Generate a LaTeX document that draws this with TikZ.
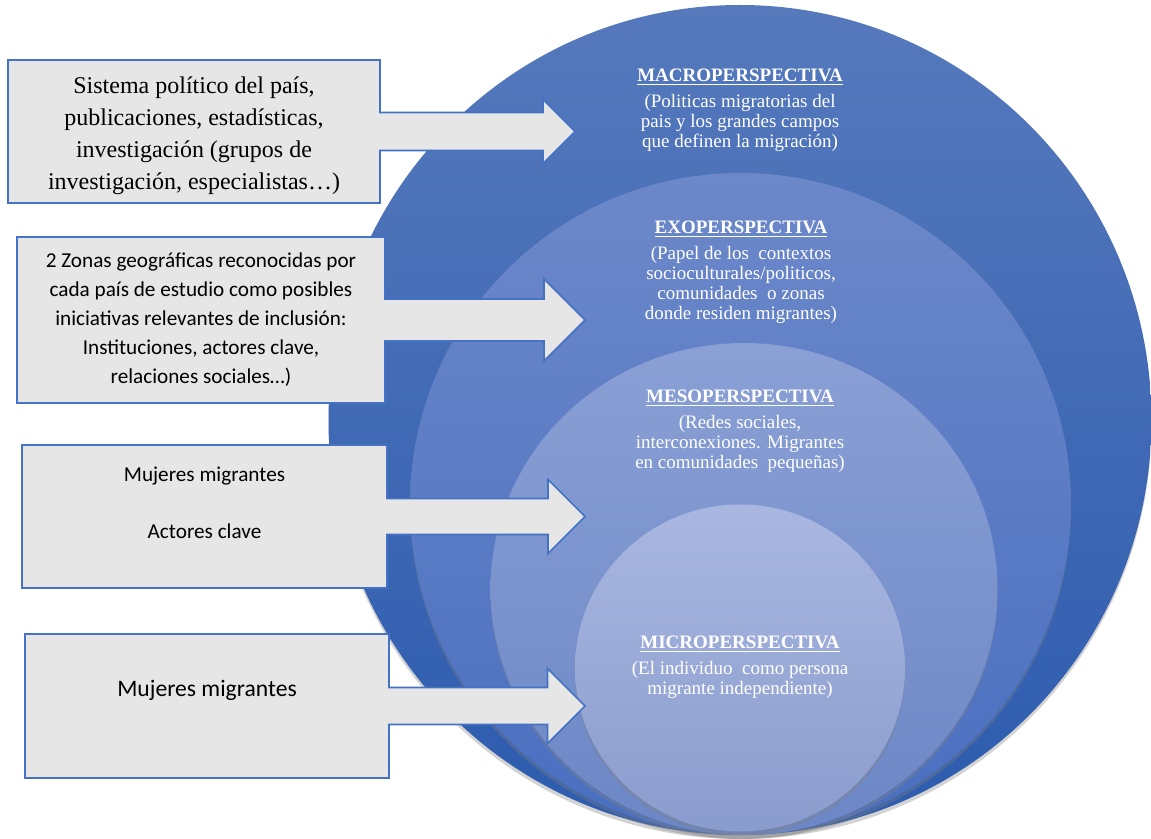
\documentclass[tikz,border=0pt]{standalone}
\usepackage{fontspec}
\setmainfont{Liberation Serif}
\newfontfamily\calibri{Carlito}
\usetikzlibrary{shapes.geometric,shapes.arrows,shadows}

\definecolor{macrotop}{HTML}{5679BC}
\definecolor{macrobot}{HTML}{2C5BAE}
\definecolor{exotop}{HTML}{6C88C9}
\definecolor{exobot}{HTML}{4A6FC0}
\definecolor{mesotop}{HTML}{8AA0D5}
\definecolor{mesobot}{HTML}{6C87C6}
\definecolor{microtop}{HTML}{A9B7E0}
\definecolor{microbot}{HTML}{8A9CCD}
\definecolor{calloutblue}{HTML}{4472C4}
\definecolor{calloutgray}{HTML}{E6E6E6}

\tikzset{
  ring/.style={ellipse, inner sep=0pt, outer sep=0pt, draw=none,
    drop shadow={shadow xshift=0pt, shadow yshift=-2pt, opacity=.35}},
  callout/.style={arrow box, draw=calloutblue, line width=.8pt, fill=calloutgray,
    inner sep=0pt, outer sep=0pt, arrow box head indent=0pt},
  ringtext/.style={text=white, align=center, font=\fontsize{9.5}{10}\selectfont},
  boxtext/.style={align=center, text=black}
}

\begin{document}
\begin{tikzpicture}[x=0.5pt, y=-0.5pt]
    \useasboundingbox (0,0) rectangle (1151,839);
    % nested perspectives
    \node[ring, top color=macrotop, bottom color=macrobot, minimum width=411.5pt, minimum height=415pt] (macro) at (740,420) {};
    \node[ring, top color=exotop, bottom color=exobot, minimum width=330.5pt, minimum height=331pt] (exo) at (740.5,504) {};
    \node[ring, top color=mesotop, bottom color=mesobot, minimum width=253.5pt, minimum height=246pt] (meso) at (744,589) {};
    \node[ring, top color=microtop, bottom color=microbot, minimum width=165pt, minimum height=163.5pt] (micro) at (740,668) {};
    \path (740,110) node[ringtext] (macrot) {\underline{\textbf{MACROPERSPECTIVA}}\\[3pt] (Politicas migratorias del\\ pais y los grandes campos\\ que definen la migración)}
          (741,272) node[ringtext] (exot) {\underline{\textbf{EXOPERSPECTIVA}}\\[3pt] (Papel de los\ \ contextos\\ socioculturales/politicos,\\ comunidades\ \ o zonas\\ donde residen migrantes)}
          (740,431) node[ringtext] (mesot) {\underline{\textbf{MESOPERSPECTIVA}}\\[3pt] (Redes sociales,\\ interconexiones. Migrantes\\ en comunidades\ \ pequeñas)}
          (740,667) node[ringtext] (microt) {\underline{\textbf{MICROPERSPECTIVA}}\\[3pt] (El individuo\ \ como persona\\ migrante independiente)};
    % sources
    \node[callout, minimum width=186pt, minimum height=71.5pt, arrow box arrows={east:97.5pt},
          arrow box shaft width=19pt, arrow box head extend=6.5pt] (b1) at (194,131.5) {};
    \node[callout, minimum width=184pt, minimum height=83pt, arrow box arrows={east:100pt},
          arrow box shaft width=21pt, arrow box head extend=10pt] (b2) at (201,320) {};
    \node[callout, minimum width=182.5pt, minimum height=71.5pt, arrow box arrows={east:99pt},
          arrow box shaft width=18pt, arrow box head extend=9.5pt] (b3) at (204.5,516.5) {};
    \node[callout, minimum width=182pt, minimum height=72pt, arrow box arrows={east:98pt},
          arrow box shaft width=18.5pt, arrow box head extend=9.5pt] (b4) at (207,706) {};
    \node[boxtext, font=\fontsize{12}{16}\selectfont] (t1) at ([yshift=-2pt]b1.center) {Sistema político del país,\\ publicaciones, estadísticas,\\ investigación (grupos de\\ investigación, especialistas\dots)};
    \node[boxtext, font=\calibri\fontsize{10.6}{14.5}\selectfont] (t2) at (b2.center) {2 Zonas geográficas reconocidas por\\ cada país de estudio como posibles\\ iniciativas relevantes de inclusión:\\ Instituciones, actores clave,\\ relaciones sociales…)};
    \node[boxtext, font=\calibri\fontsize{10.6}{13}\selectfont] (t3) at ([yshift=7pt]b3.center) {Mujeres migrantes\\[15.5pt] Actores clave};
    \node[boxtext, font=\calibri\fontsize{11.8}{14}\selectfont] (t4) at ([yshift=8pt]b4.center) {Mujeres migrantes};
\end{tikzpicture}
\end{document}
